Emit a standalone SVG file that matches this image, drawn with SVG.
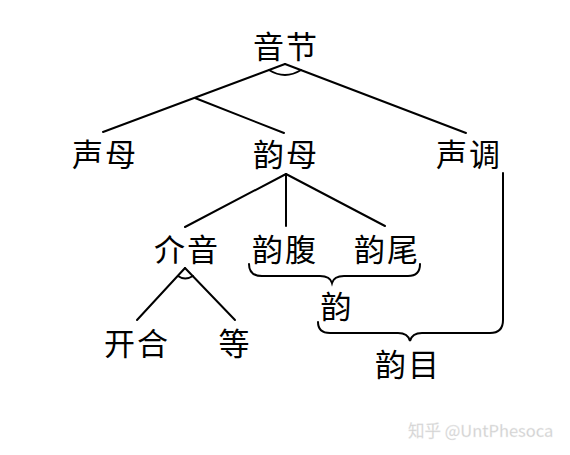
<svg xmlns="http://www.w3.org/2000/svg" width="570" height="455" viewBox="0 0 570 455">
<style>
.t{font-family:"Noto Sans CJK SC","Noto Sans",sans-serif;font-size:31px;fill:#000;text-anchor:middle;letter-spacing:2px}
.l{stroke:#000;stroke-width:2;fill:none;stroke-linecap:round}
.w{font-family:"Noto Sans CJK SC","Noto Sans",sans-serif;font-size:16.5px;fill:#d0d0d0;stroke:#eee;stroke-width:0.3}
</style>
<rect width="570" height="455" fill="#fff"/>
<g id="connectors" class="l">
<path d="M285 64 L103 132"/>
<path d="M285 64 L466 133"/>
<path d="M195 98 L284 133"/>
<path d="M269 70 Q285 80 301 70"/>
<path d="M286 174 L185 227"/>
<path d="M286 174 L286 226"/>
<path d="M286 174 L385 226"/>
<path d="M185 268 L137 320"/>
<path d="M185 268 L235 320"/>
<path d="M178 276 Q185 281 193 276"/>
<path d="M249 264 Q249 276 262 276 L320 276 Q330 276 332 283 Q334 276 344 276 L408 276 Q420 276 420 264"/>
<path d="M503 173 L503 320 Q503 333 490 333 L422 333 Q412 333 410 341 Q408 333 398 333 L330 333 Q318 333 318 322"/>
</g>
<g id="n-yinjie"><text class="t" x="286" y="58">音节</text></g>
<g id="n-shengmu"><text class="t" x="105" y="166">声母</text></g>
<g id="n-yunmu"><text class="t" x="286" y="166">韵母</text></g>
<g id="n-shengdiao"><text class="t" x="469" y="166">声调</text></g>
<g id="n-jieyin"><text class="t" x="187" y="261">介音</text></g>
<g id="n-yunfu"><text class="t" x="285" y="261">韵腹</text></g>
<g id="n-yunwei"><text class="t" x="387" y="261">韵尾</text></g>
<g id="n-yun"><text class="t" x="336" y="318" style="letter-spacing:0">韵</text></g>
<g id="n-kaihe"><text class="t" x="137" y="355">开合</text></g>
<g id="n-deng"><text class="t" x="234" y="355" style="letter-spacing:0">等</text></g>
<g id="n-yunmu2"><text class="t" x="408" y="376">韵目</text></g>
<text class="w" x="408" y="437">知乎 @UntPhesoca</text>
</svg>
